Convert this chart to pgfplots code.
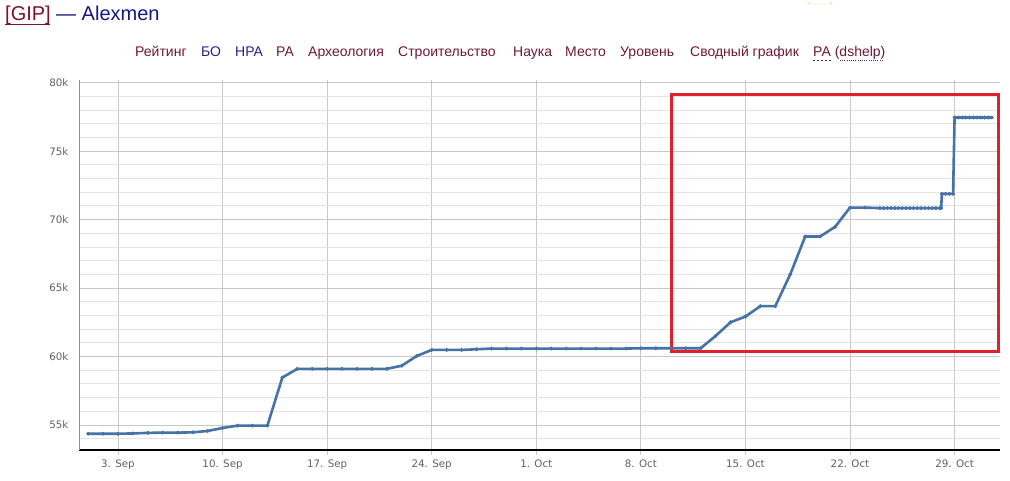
\documentclass[border=0pt]{standalone}
\usepackage{fontspec}
\setmainfont{Liberation Sans}
\newfontfamily\tickfont{DejaVu Sans}
\usepackage{pgfplots}
\pgfplotsset{compat=1.18}

\definecolor{linecol}{HTML}{4572A7}
\definecolor{maroonA}{HTML}{80102E}
\definecolor{maroonB}{HTML}{6E1836}
\definecolor{navyA}{HTML}{16167E}
\definecolor{navyB}{HTML}{22228C}
\definecolor{gridmaj}{HTML}{C8C8C8}
\definecolor{gridmin}{HTML}{E4E4E4}
\definecolor{tickgray}{HTML}{606060}
\definecolor{boxred}{HTML}{E0202A}

% day 0 = 1 Sep
\pgfplotstableread{
d v
0 54360
1 54360
2 54360
3 54380
4 54420
5 54440
6 54440
7 54460
8 54560
9 54780
10 54950
11 54950
12 54950
13 58460
14 59100
15 59100
16 59100
17 59100
18 59100
19 59100
20 59100
21 59330
22 60040
23 60480
24 60480
25 60480
26 60530
27 60580
28 60580
29 60580
30 60580
31 60580
32 60580
33 60580
34 60580
35 60580
36 60580
37 60600
38 60600
39 60600
40 60600
41 60600
42 61500
43 62500
44 62920
45 63680
46 63680
47 66000
48 68770
49 68770
50 69470
51 70880
52 70880
53 70840
53.25 70840
53.5 70840
53.75 70840
54 70840
54.25 70840
54.5 70840
54.75 70840
55 70840
55.25 70840
55.5 70840
55.75 70840
56 70840
56.25 70840
56.5 70840
56.75 70840
57 70840
57.1 70840
57.15 71880
57.4 71880
57.65 71880
57.9 71880
58 77460
58.25 77460
58.5 77460
58.75 77460
59 77460
59.25 77460
59.5 77460
59.75 77460
60 77460
60.25 77460
60.5 77460
}\ratingdata

\begin{document}
\begin{tikzpicture}[x=1pt,y=1pt]
\useasboundingbox (0,0) rectangle (1010,480);

% header
\node[anchor=base west, inner sep=0, font=\fontsize{20}{24}\selectfont, text=maroonA] at (5,459) {[GIP]};
\draw[maroonA, line width=1pt] (5,455) -- (50,455);
\node[anchor=base west, inner sep=0, font=\fontsize{20}{24}\selectfont, text=navyA] at (56,459) {— Alexmen};
\draw[orange!55, rounded corners=2pt] (808,484) rectangle (832,476);

% menu
\begin{scope}[every node/.style={anchor=base west, inner sep=0, font=\fontsize{14}{16}\selectfont}]
\node[text=maroonB] at (135,423) {Рейтинг};
\node[text=navyB] at (201,423) {БО};
\node[text=navyB] at (235,423) {НРА};
\node[text=maroonB] at (276,423) {РА};
\node[text=maroonB] at (308,423) {Археология};
\node[text=maroonB] at (398,423) {Строительство};
\node[text=maroonB] at (513,423) {Наука};
\node[text=maroonB] at (565,423) {Место};
\node[text=maroonB] at (620,423) {Уровень};
\node[text=maroonB] at (690,423) {Сводный график};
\node[text=maroonB] at (813,423) {РА (dshelp)};
\end{scope}
\draw[black!80, dash pattern=on 2pt off 2pt] (813,419.5) -- (832,419.5);
\draw[black!80, dash pattern=on 1pt off 1.2pt] (840,419.5) -- (884,419.5);

\begin{axis}[
  at={(79pt,30pt)}, anchor=south west,
  scale only axis,
  width=921pt, height=370pt,
  xmin=-0.61, xmax=61.04,
  ymin=53170, ymax=80200,
  scaled y ticks=false,
  separate axis lines,
  axis x line*=bottom, axis y line*=left,
  x axis line style={-, black, line width=1.3pt},
  y axis line style={-, gray!85, line width=0.9pt},
  xtick={2,9,16,23,30,37,44,51,58},
  xticklabels={3. Sep,10. Sep,17. Sep,24. Sep,1. Oct,8. Oct,15. Oct,22. Oct,29. Oct},
  ytick={55000,60000,65000,70000,75000,80000},
  yticklabels={55k,60k,65k,70k,75k,80k},
  minor ytick={54000,55000,...,80000},
  xmajorgrids, ymajorgrids, yminorgrids,
  major grid style={gridmaj, line width=0.9pt},
  minor grid style={gridmin, line width=0.9pt},
  tick align=outside,
  xtick style={gridmaj, line width=0.9pt},
  major tick length=5pt,
  ytick style={draw=none},
  minor tick length=0pt,
  ticklabel style={font=\tickfont\fontsize{10.3}{12}\selectfont, text=tickgray},
  xticklabel style={yshift=-1pt},
  yticklabel style={xshift=-2pt},
  clip=false,
]
\addplot[linecol, line width=2.6pt, mark=*, mark size=1.7pt,
  mark options={fill=linecol, draw=linecol, line width=0.5pt}]
  table[x=d, y=v] {\ratingdata};
\draw[boxred, line width=3pt] (axis cs:39.08,60340) rectangle (axis cs:60.97,79120);
\end{axis}
\end{tikzpicture}
\end{document}
